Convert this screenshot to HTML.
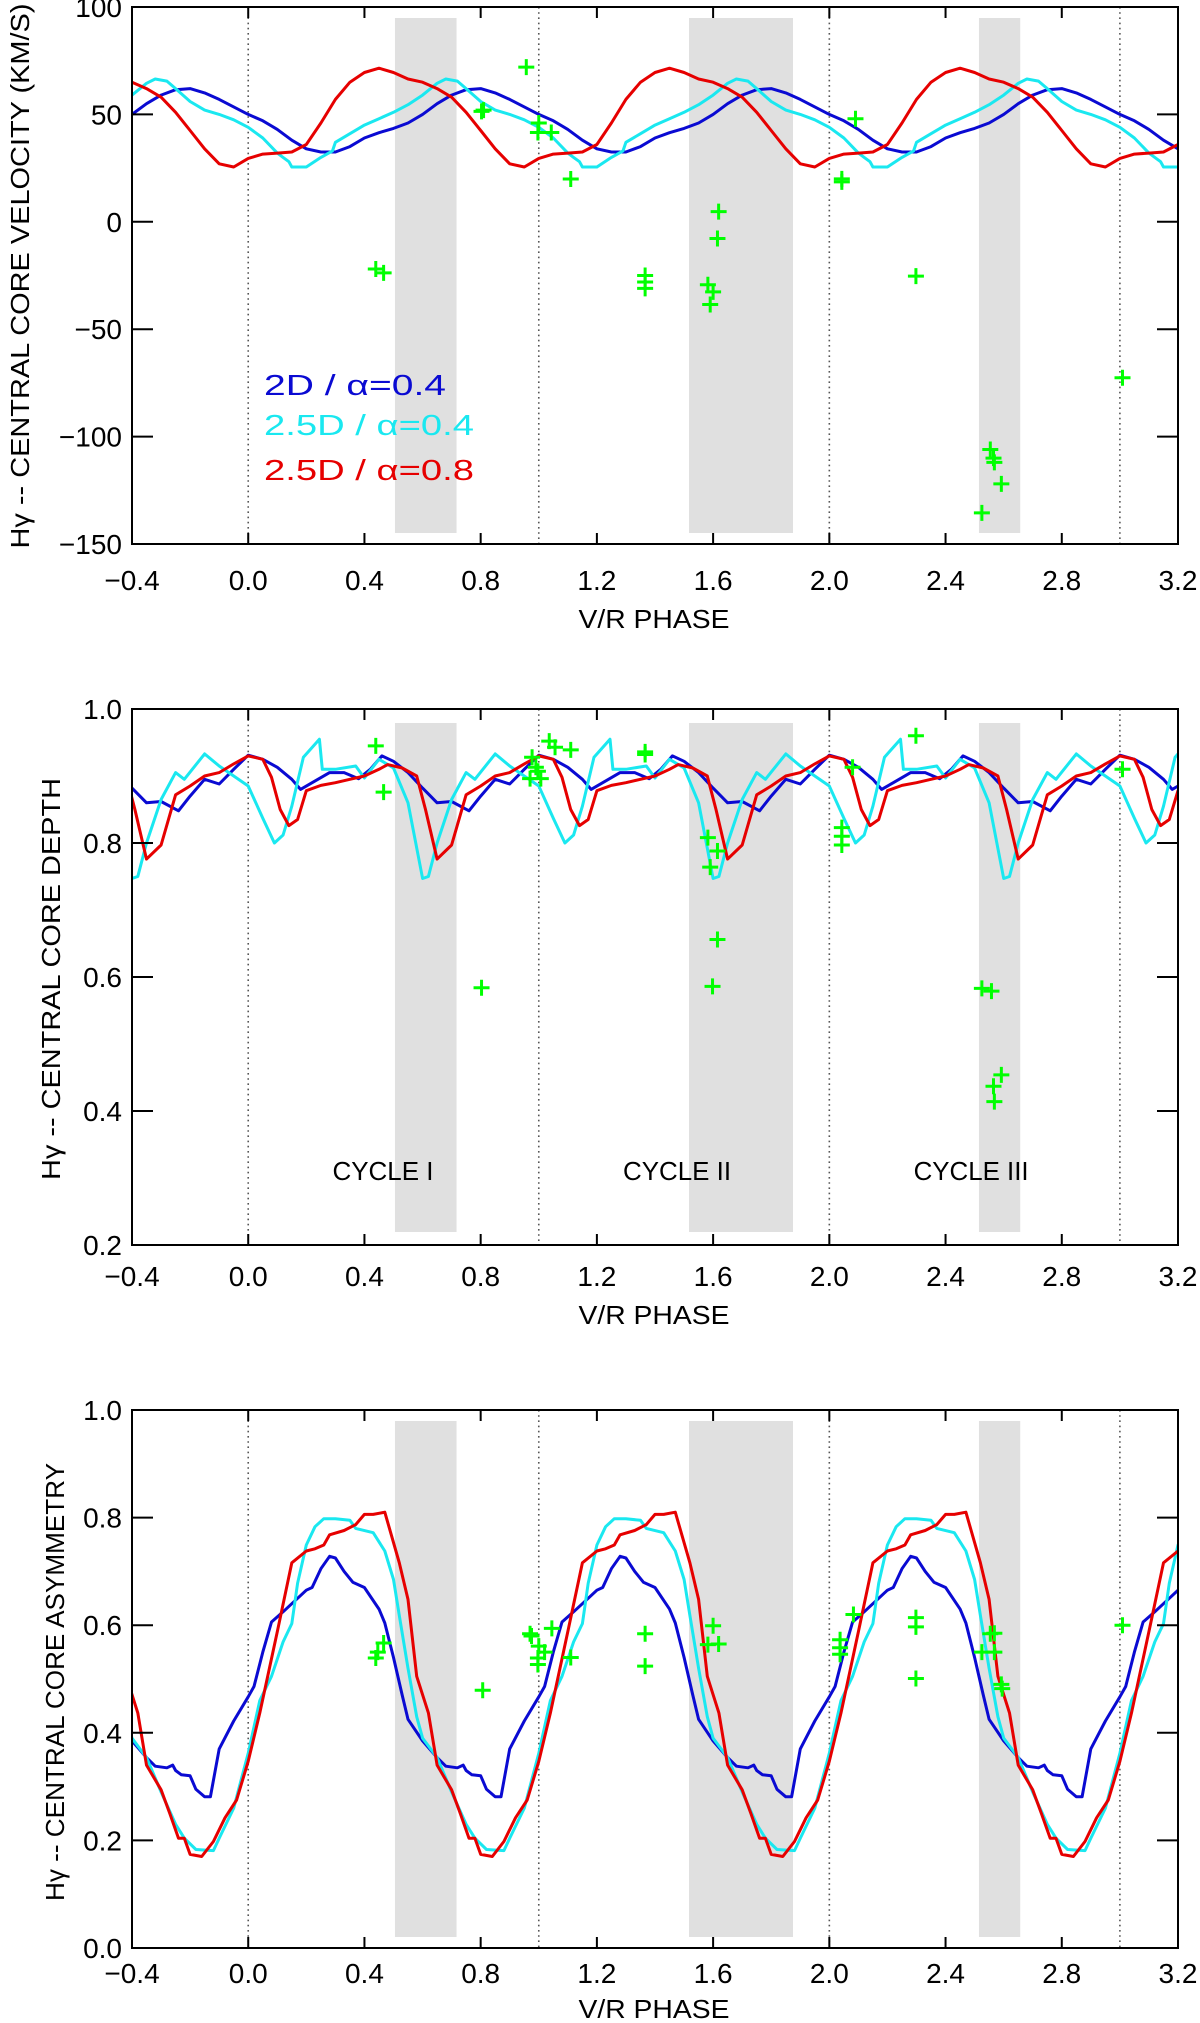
<!DOCTYPE html>
<html><head><meta charset="utf-8"><style>
html,body{margin:0;padding:0;background:#fff;}
svg{display:block;font-family:"Liberation Sans",sans-serif;}
</style></head><body>
<svg id="chart" xmlns="http://www.w3.org/2000/svg" width="1200" height="2023" viewBox="0 0 1200 2023"></svg>
<script>
// ---------- data ----------
const xTicks = [-0.4, 0.0, 0.4, 0.8, 1.2, 1.6, 2.0, 2.4, 2.8, 3.2];
const xTickLabels = ["\u22120.4","0.0","0.4","0.8","1.2","1.6","2.0","2.4","2.8","3.2"];
const cycleLines = [0, 1, 2, 3];
const grayBands = [[0.505, 0.717], [1.517, 1.875], [2.515, 2.657]];
const cycleLabels = ["CYCLE I", "CYCLE II", "CYCLE III"];
const cycleLabelPhase = [0.29, 1.29, 2.29];

// panel 1: velocity (one model cycle, phase 0..1)
const velTicks = [100, 50, 0, -50, -100, -150];
const velTickLabels = ["100","50","0","\u221250","\u2212100","\u2212150"];
const velBlueP = [0,0.05,0.1,0.15,0.2,0.25,0.3,0.35,0.4,0.45,0.5,0.55,0.6,0.65,0.7,0.75,0.8,0.85,0.9,0.95,1.0];
const velBlueV = [50,47,43,38,34,32.5,32.5,35,39,41.5,43.5,46,50,55,59,61.5,62,60,57,53.5,50];
const velCyanP = [0,0.05,0.1,0.12,0.14,0.15,0.2,0.25,0.29,0.3,0.35,0.4,0.45,0.5,0.55,0.6,0.65,0.68,0.72,0.75,0.8,0.85,0.9,0.95,1.0];
const velCyanV = [44,39,32,30,28,25.5,25.5,30,33,37,41,45,48,51,54.5,59,64.5,66.5,65.5,62,56,52,50,47.5,44];
const velRedP = [0,0.05,0.1,0.15,0.2,0.25,0.3,0.35,0.4,0.45,0.5,0.55,0.6,0.65,0.7,0.75,0.8,0.85,0.9,0.95,1.0];
const velRedV = [29.5,31.5,32,32.5,36,46,57,65,69.5,71.5,69.5,66.5,65,62,58,51,42.5,34,27,25.5,29.5];
const velObsP = [0.439,0.466,0.957,0.803,0.81,0.997,1.0,1.043,1.11,1.366,1.366,1.366,1.619,1.615,1.582,1.6,1.59,2.043,2.043,2.09,2.298,3.009,2.554,2.565,2.568,2.592,2.525];
const velObsV = [-22,-23.8,72,51.4,52,41.6,46,41.6,19.9,-25,-28,-31,4.75,-7.8,-29.3,-32.6,-38.5,20,18.6,48,-25.3,-72.6,-106,-110,-112,-122,-135.5];

// panel 2: depth
const depTicks = [1.0, 0.8, 0.6, 0.4, 0.2];
const depTickLabels = ["1.0","0.8","0.6","0.4","0.2"];
const depBlueP = [0,0.05,0.1,0.15,0.18,0.22,0.28,0.33,0.38,0.42,0.46,0.5,0.55,0.6,0.65,0.7,0.76,0.8,0.85,0.9,0.95,1.0];
const depBlueV = [0.931,0.925,0.913,0.895,0.88,0.89,0.905,0.905,0.896,0.91,0.93,0.922,0.905,0.882,0.86,0.862,0.848,0.87,0.895,0.888,0.91,0.931];
const depCyanP = [0,0.05,0.09,0.12,0.15,0.19,0.245,0.255,0.3,0.37,0.4,0.45,0.5,0.55,0.6,0.62,0.65,0.7,0.75,0.78,0.85,0.9,1.0];
const depCyanV = [0.885,0.837,0.8,0.812,0.855,0.928,0.955,0.91,0.91,0.915,0.897,0.925,0.912,0.86,0.747,0.75,0.8,0.865,0.905,0.895,0.933,0.915,0.885];
const depRedP = [0,0.05,0.08,0.11,0.14,0.17,0.2,0.25,0.3,0.35,0.4,0.45,0.48,0.53,0.58,0.61,0.65,0.7,0.75,0.8,0.85,0.9,0.95,1.0];
const depRedV = [0.93,0.925,0.898,0.85,0.826,0.835,0.878,0.886,0.89,0.895,0.9,0.91,0.917,0.912,0.9,0.85,0.776,0.797,0.872,0.885,0.9,0.905,0.918,0.93];
const depObsP = [0.439,0.466,0.803,0.977,0.99,0.97,1.007,0.997,1.036,1.056,1.11,1.366,1.366,1.582,1.615,1.59,1.615,1.598,2.043,2.043,2.043,2.08,2.298,3.009,2.525,2.558,2.592,2.565,2.568];
const depObsV = [0.945,0.876,0.584,0.928,0.913,0.896,0.896,0.907,0.952,0.943,0.939,0.932,0.936,0.808,0.788,0.764,0.656,0.586,0.823,0.797,0.81,0.913,0.96,0.91,0.583,0.579,0.454,0.437,0.414];

// panel 3: asymmetry
const asyTicks = [1.0, 0.8, 0.6, 0.4, 0.2, 0.0];
const asyTickLabels = ["1.0","0.8","0.6","0.4","0.2","0.0"];
const asyBlueP = [0,0.02,0.05,0.08,0.12,0.15,0.2,0.22,0.25,0.28,0.3,0.33,0.36,0.4,0.45,0.47,0.5,0.53,0.55,0.6,0.65,0.68,0.72,0.74,0.75,0.77,0.8,0.82,0.85,0.87,0.9,0.95,1.0];
const asyBlueV = [0.467,0.486,0.55,0.606,0.625,0.64,0.665,0.67,0.705,0.728,0.725,0.7,0.68,0.67,0.63,0.604,0.54,0.47,0.425,0.385,0.354,0.338,0.335,0.34,0.33,0.322,0.32,0.295,0.281,0.281,0.37,0.422,0.467];
const asyCyanP = [0,0.04,0.08,0.12,0.15,0.17,0.2,0.23,0.26,0.3,0.35,0.37,0.43,0.47,0.5,0.52,0.55,0.58,0.6,0.65,0.7,0.75,0.78,0.82,0.88,0.9,0.95,1.0];
const asyCyanV = [0.362,0.46,0.505,0.569,0.603,0.678,0.749,0.783,0.798,0.798,0.795,0.78,0.772,0.738,0.685,0.618,0.52,0.43,0.39,0.354,0.29,0.23,0.204,0.183,0.181,0.204,0.26,0.362];
const asyRedP = [0,0.04,0.1,0.15,0.2,0.23,0.26,0.28,0.33,0.37,0.4,0.43,0.47,0.52,0.55,0.58,0.62,0.65,0.7,0.73,0.76,0.78,0.8,0.84,0.88,0.92,0.96,1.0];
const asyRedV = [0.347,0.437,0.588,0.716,0.738,0.742,0.749,0.768,0.776,0.787,0.806,0.806,0.81,0.716,0.648,0.505,0.437,0.34,0.294,0.25,0.204,0.204,0.174,0.17,0.198,0.242,0.275,0.347];
const asyObsP = [0.439,0.446,0.466,0.807,0.97,0.975,1.0,0.997,0.997,1.02,1.045,1.11,1.366,1.366,1.6,1.582,1.619,2.037,2.037,2.037,2.083,2.298,2.298,2.298,3.009,2.568,2.554,2.525,2.568,2.592,2.595];
const asyObsV = [0.539,0.55,0.567,0.479,0.584,0.58,0.561,0.539,0.527,0.55,0.594,0.54,0.584,0.524,0.599,0.564,0.565,0.573,0.558,0.546,0.62,0.614,0.597,0.501,0.6,0.585,0.584,0.55,0.55,0.49,0.482];

// ---------- drawing ----------
const NS = "http://www.w3.org/2000/svg";
const svg = document.getElementById("chart");
const X0 = 132, X1 = 1178, XMIN = -0.4, XMAX = 3.2;
function xs(p){ return X0 + (p - XMIN) / (XMAX - XMIN) * (X1 - X0); }
function mk(tag, parent){ const e = document.createElementNS(NS, tag); parent.appendChild(e); return e; }
function fit(e, len){ e.setAttribute("textLength", len); e.setAttribute("lengthAdjust", "spacingAndGlyphs"); }

const panels = [
  {id:"velocity", top:7, bot:544, ymin:-150, ymax:100, ticks:velTicks, labels:velTickLabels,
   title:"H\u03b3 -- CENTRAL CORE VELOCITY (KM/S)", titleX:20, titleY:276, titleLen:545, bandTop:18, bandBot:533,
   tickBase:590, xTitleBase:628,
   series:[[velBlueP,velBlueV,"#0a0ad2","blue"],[velCyanP,velCyanV,"#1ae8f0","cyan"],[velRedP,velRedV,"#e60000","red"]],
   obsP:velObsP, obsV:velObsV},
  {id:"depth", top:709, bot:1245, ymin:0.2, ymax:1.0, ticks:depTicks, labels:depTickLabels,
   title:"H\u03b3 -- CENTRAL CORE DEPTH", titleX:51, titleY:979, titleLen:402, bandTop:723, bandBot:1232,
   tickBase:1286, xTitleBase:1324,
   series:[[depBlueP,depBlueV,"#0a0ad2","blue"],[depCyanP,depCyanV,"#1ae8f0","cyan"],[depRedP,depRedV,"#e60000","red"]],
   obsP:depObsP, obsV:depObsV, cycles:true},
  {id:"asymmetry", top:1410, bot:1948, ymin:0.0, ymax:1.0, ticks:asyTicks, labels:asyTickLabels,
   title:"H\u03b3 -- CENTRAL CORE ASYMMETRY", titleX:55, titleY:1682, titleLen:438, bandTop:1421, bandBot:1937,
   tickBase:1983, xTitleBase:2018,
   series:[[asyBlueP,asyBlueV,"#0a0ad2","blue"],[asyCyanP,asyCyanV,"#1ae8f0","cyan"],[asyRedP,asyRedV,"#e60000","red"]],
   obsP:asyObsP, obsV:asyObsV}
];
const cycleLabelLen = [101, 108, 115];

panels.forEach(P => {
  const ys = v => P.bot - (v - P.ymin) / (P.ymax - P.ymin) * (P.bot - P.top);
  const g = mk("g", svg);
  
  

  const clip = mk("clipPath", g); clip.setAttribute("id", "clip-" + P.id);
  const cr = mk("rect", clip);
  cr.setAttribute("x", X0); cr.setAttribute("y", P.top); cr.setAttribute("width", X1 - X0); cr.setAttribute("height", P.bot - P.top);

  grayBands.forEach((b, i) => {
    const r = mk("rect", g);
    
    
    r.setAttribute("x", xs(b[0])); r.setAttribute("width", xs(b[1]) - xs(b[0]));
    r.setAttribute("y", P.bandTop); r.setAttribute("height", P.bandBot - P.bandTop);
    r.setAttribute("fill", "#e0e0e0");
  });

  cycleLines.forEach(c => {
    const l = mk("line", g);
    
    
    l.setAttribute("x1", xs(c)); l.setAttribute("x2", xs(c));
    l.setAttribute("y1", P.top); l.setAttribute("y2", P.bot);
    l.setAttribute("stroke", "#555"); l.setAttribute("stroke-width", "1.6"); l.setAttribute("stroke-dasharray", "1.6 3.6");
  });

  if (P.cycles) {
    cycleLabels.forEach((t, i) => {
      const tx = mk("text", g);
      
      
      tx.setAttribute("x", xs(cycleLabelPhase[i])); tx.setAttribute("y", 1180);
      tx.setAttribute("font-size", "26"); tx.textContent = t;
      fit(tx, cycleLabelLen[i]);
    });
  }

  const lg = mk("g", g); lg.setAttribute("clip-path", "url(#clip-" + P.id + ")");
  P.series.forEach(s => {
    const [pp, vv, col, nm] = s;
    let d = "";
    for (let k = -1; k <= 3; k++) {
      for (let i = 0; i < pp.length; i++) {
        if (k > -1 && i === 0) continue;
        d += (d ? "L" : "M") + xs(pp[i] + k).toFixed(1) + "," + ys(vv[i]).toFixed(1);
      }
    }
    const path = mk("path", lg);
    
    
    path.setAttribute("d", d); path.setAttribute("fill", "none");
    path.setAttribute("stroke", col); path.setAttribute("stroke-width", "3"); path.setAttribute("stroke-linejoin", "round");
  });

  P.obsP.forEach((p, i) => {
    const cx = xs(p), cy = ys(P.obsV[i]);
    const m = mk("path", g);
    
    
    m.setAttribute("d", `M${cx-8},${cy}H${cx+8}M${cx},${cy-8}V${cy+8}`);
    m.setAttribute("stroke", "#00ff00"); m.setAttribute("stroke-width", "3");
  });

  const fr = mk("rect", g);
  
  
  fr.setAttribute("x", X0); fr.setAttribute("y", P.top); fr.setAttribute("width", X1 - X0); fr.setAttribute("height", P.bot - P.top);
  fr.setAttribute("fill", "none"); fr.setAttribute("stroke", "#000"); fr.setAttribute("stroke-width", "2");

  xTicks.forEach((t, i) => {
    const x = xs(t);
    const tk = mk("path", g);
    
    
    tk.setAttribute("d", `M${x},${P.bot}V${P.bot-11}M${x},${P.top}V${P.top+11}`);
    tk.setAttribute("stroke", "#000"); tk.setAttribute("stroke-width", "2");
    const lb = mk("text", g);
    
    
    lb.setAttribute("x", x); lb.setAttribute("y", P.tickBase);
    lb.setAttribute("text-anchor", "middle"); lb.setAttribute("font-size", "28");
    lb.textContent = xTickLabels[i];
  });

  P.ticks.forEach((t, i) => {
    const y = ys(t);
    const tk = mk("path", g);
    
    
    tk.setAttribute("d", `M${X0},${y}H${X0+21}M${X1},${y}H${X1-21}`);
    tk.setAttribute("stroke", "#000"); tk.setAttribute("stroke-width", "2");
    const lb = mk("text", g);
    
    
    lb.setAttribute("x", 122); lb.setAttribute("y", y + 10);
    lb.setAttribute("text-anchor", "end"); lb.setAttribute("font-size", "28");
    lb.textContent = P.labels[i];
  });

  const xt = mk("text", g);
  
  
  xt.setAttribute("x", 654); xt.setAttribute("y", P.xTitleBase);
  xt.setAttribute("text-anchor", "middle"); xt.setAttribute("font-size", "26");
  xt.textContent = "V/R PHASE";
  fit(xt, 151);

  const yt = mk("text", g);
  
  
  yt.setAttribute("x", 0); yt.setAttribute("y", 0);
  yt.setAttribute("transform", `translate(${P.titleX + 9},${P.titleY}) rotate(-90)`);
  yt.setAttribute("text-anchor", "middle"); yt.setAttribute("font-size", "26");
  yt.textContent = P.title;
  fit(yt, P.titleLen);
});

// legend (panel 1)
const legendText = ["2D / \u03b1=0.4", "2.5D / \u03b1=0.4", "2.5D / \u03b1=0.8"];
const legendColor = ["#0a0ad2", "#1ae8f0", "#e60000"];
const legendY = [395, 435, 480];
const legendLen = [182, 210, 210];
legendText.forEach((t, i) => {
  const e = mk("text", svg);
  
  
  e.setAttribute("x", 264); e.setAttribute("y", legendY[i]);
  e.setAttribute("font-size", "29"); e.setAttribute("fill", legendColor[i]);
  e.textContent = t;
  fit(e, legendLen[i]);
});
</script>
</body></html>
